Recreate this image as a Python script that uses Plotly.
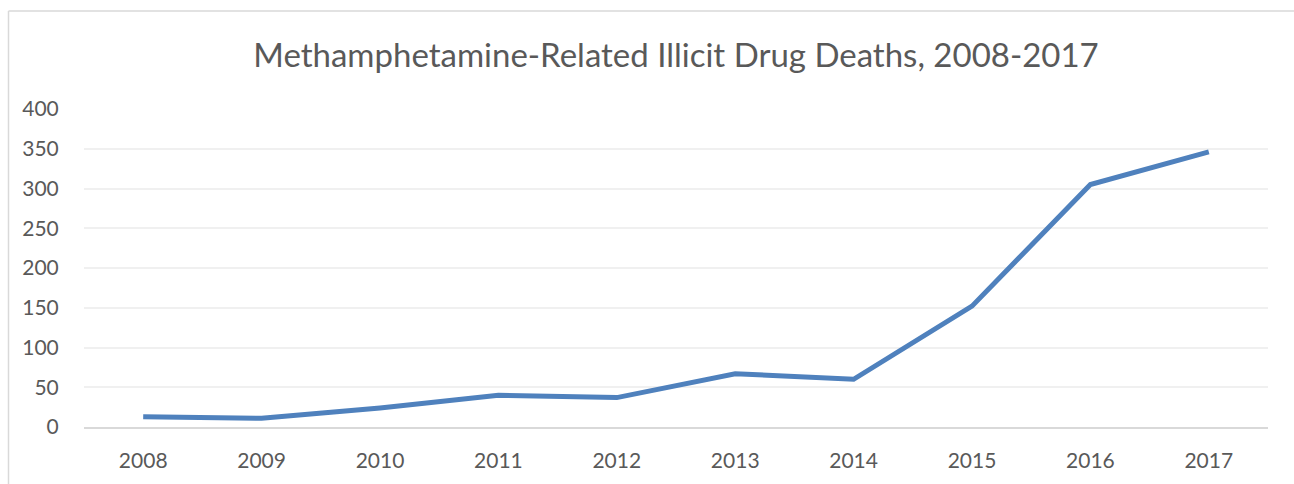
import plotly.graph_objects as go

years = ["2008", "2009", "2010", "2011", "2012", "2013", "2014", "2015", "2016", "2017"]
deaths = [13, 11, 24, 40, 37, 67, 60, 152, 305, 346]
y_ticks = [0, 50, 100, 150, 200, 250, 300, 350, 400]

W, H = 1294, 484
L, R, T, B = 84, 26, 109, 55
pw, ph = W - L - R, H - T - B

fig = go.Figure()
fig.add_trace(go.Scatter(
    x=years, y=deaths, mode="lines",
    line=dict(color="#4F81BD", width=5),
    hoverinfo="x+y", showlegend=False,
))

def px(xp):
    return (xp - L) / pw

def py(yp):
    return (H - B - yp) / ph

border = dict(color="#D9D9D9", width=1.5)
fig.update_layout(
    width=W, height=H,
    margin=dict(l=L, r=R, t=T, b=B),
    paper_bgcolor="white", plot_bgcolor="white",
    font=dict(family="Lato, Open Sans, sans-serif", color="#595959", size=21),
    title=dict(text="Methamphetamine-Related Illicit Drug Deaths, 2008-2017",
               x=0.5, xref="paper", y=1 - 55 / H, yanchor="middle",
               font=dict(size=33, color="#595959")),
    xaxis=dict(type="category", range=[-0.5, 9.5], showgrid=False,
               showline=True, linecolor="#D9D9D9", linewidth=1.5,
               ticks="outside", ticklen=14, tickcolor="rgba(0,0,0,0)",
               fixedrange=True),
    yaxis=dict(range=[0, 400], tickvals=y_ticks, showgrid=True,
               gridcolor="#F0F0F0", gridwidth=1.5, zeroline=False,
               showline=False, ticks="outside", ticklen=20,
               tickcolor="rgba(0,0,0,0)", fixedrange=True),
    shapes=[
        dict(type="line", xref="paper", yref="paper",
             x0=px(8.5), x1=px(8.5), y0=py(490), y1=py(10.5), line=border),
        dict(type="line", xref="paper", yref="paper",
             x0=px(8.5), x1=px(1300), y0=py(10.5), y1=py(10.5), line=border),
    ],
)

fig.write_html(
    "out.html",
    config={"displayModeBar": False},
    post_script="document.body.style.margin='0';document.body.style.overflow='hidden';",
)
